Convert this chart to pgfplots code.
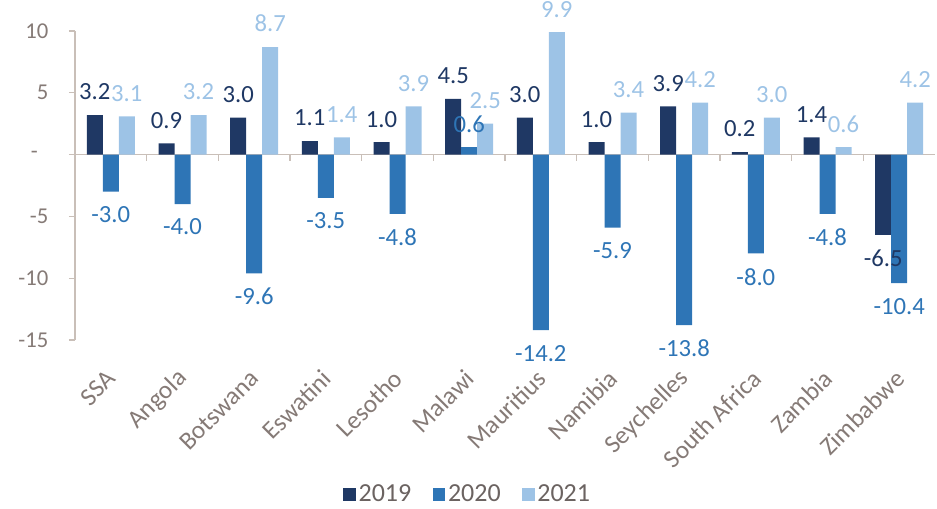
\documentclass[border=0pt]{standalone}
\usepackage{fontspec}
\setmainfont{Carlito}
\usepackage{pgfplots}
\pgfplotsset{compat=1.18}
\definecolor{c19}{HTML}{1F3864}
\definecolor{c20}{HTML}{2E75B6}
\definecolor{c21}{HTML}{9DC3E6}
\definecolor{axisgray}{HTML}{C9BFB8}
\definecolor{tickcol}{HTML}{857A76}
\definecolor{legcol}{HTML}{6B6361}

\begin{document}
\begin{tikzpicture}
\useasboundingbox (-56.25pt,-126.75pt) rectangle (646.5pt,255pt);
\begin{axis}[
    at={(0,0)}, anchor=south west,
    scale only axis,
    width=645pt, height=231.75pt,
    ybar, bar width=12pt, ybar=0pt,
    xmin=-0.5, xmax=11.5,
    ymin=-15, ymax=10,
    axis y line*=left,
    axis x line*=bottom,
    x axis line style={draw=none},
    y axis line style={axisgray, line width=0.8pt},
    xtick={0,...,11},
    xticklabels={SSA,Angola,Botswana,Eswatini,Lesotho,Malawi,Mauritius,Namibia,Seychelles,South Africa,Zambia,Zimbabwe},
    xtick style={draw=none},
    xticklabel style={font=\fontsize{19}{21}\selectfont, text=tickcol, xshift=3pt, yshift=-19pt, rotate=45, anchor=east},
    ytick={-15,-10,-5,0,5,10},
    yticklabels={-15,-10,-5,{\makebox[13pt][l]{-}},5,10},
    ytick style={axisgray, line width=0.8pt},
    tick align=outside,
    major tick length=4.5pt,
    yticklabel style={font=\fontsize{17}{19}\selectfont, text=tickcol, xshift=-12pt},
    clip=false,
    nodes near coords,
    nodes near coords align={vertical},
    every node near coord/.append style={font=\fontsize{18.5}{20}\selectfont, inner ysep=11pt, inner xsep=0pt},
    /pgf/number format/.cd, fixed, fixed zerofill, precision=1, assume math mode=true,
    /pgfplots/.cd,
    legend style={at={(0.457,-0.5)}, anchor=center, draw=none, fill=none,
        legend columns=3, font=\fontsize{19.5}{21}\selectfont, text=legcol,
        /tikz/every even column/.append style={column sep=14pt}},
    legend image code/.code={\fill[#1,draw=none] (-1.5pt,-4.5pt) rectangle (8pt,4.5pt);},
]
\draw[axisgray, line width=0.8pt] (axis cs:-0.5,0) -- (axis cs:11.5,0);
\pgfplotsinvokeforeach{0.5,1.5,...,10.5}{\draw[axisgray, line width=0.8pt] (axis cs:#1,0) -- ++(0pt,-4.5pt);}
\addplot[fill=c19, draw=none, every node near coord/.append style={text=c19}] coordinates {
(0,3.2) (1,0.9) (2,3.0) (3,1.1) (4,1.0) (5,4.5) (6,3.0) (7,1.0) (8,3.9) (9,0.2) (10,1.4) (11,-6.5)};
\addplot[fill=c20, draw=none, every node near coord/.append style={text=c20}] coordinates {
(0,-3.0) (1,-4.0) (2,-9.6) (3,-3.5) (4,-4.8) (5,0.6) (6,-14.2) (7,-5.9) (8,-13.8) (9,-8.0) (10,-4.8) (11,-10.4)};
\addplot[fill=c21, draw=none, every node near coord/.append style={text=c21}] coordinates {
(0,3.1) (1,3.2) (2,8.7) (3,1.4) (4,3.9) (5,2.5) (6,9.9) (7,3.4) (8,4.2) (9,3.0) (10,0.6) (11,4.2)};
\legend{2019,2020,2021}
\end{axis}
\end{tikzpicture}
\end{document}
